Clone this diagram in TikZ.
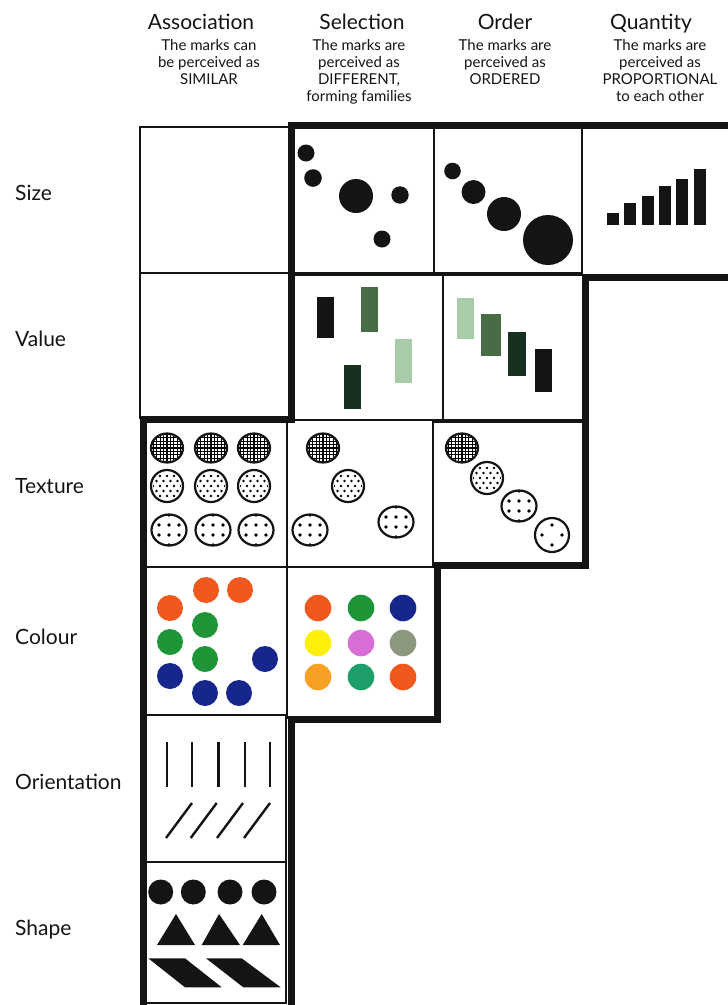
\documentclass[tikz,border=0pt]{standalone}
\usepackage{fontspec}
\setmainfont{Lato}
\usetikzlibrary{positioning}
\definecolor{inkblack}{RGB}{20,20,20}
\definecolor{markorange}{RGB}{240,88,30}
\definecolor{markgreen}{RGB}{30,150,55}
\definecolor{markblue}{RGB}{22,38,140}
\definecolor{markyellow}{RGB}{255,240,10}
\definecolor{markpink}{RGB}{215,110,215}
\definecolor{markgrey}{RGB}{140,152,125}
\definecolor{markamber}{RGB}{248,160,35}
\definecolor{markteal}{RGB}{30,158,105}
\definecolor{valpale}{RGB}{168,204,170}
\definecolor{valmid}{RGB}{72,108,70}
\definecolor{valdark}{RGB}{24,48,32}

\begin{document}
\begin{tikzpicture}[
    x=1pt, y=-1pt,
    thinline/.style={draw=inkblack, line width=2pt},
    thickline/.style={draw=inkblack, line width=7pt, line join=miter},
    title/.style={font=\fontsize{21}{24}\selectfont, text=inkblack, inner sep=0pt, anchor=base},
    desc/.style={font=\fontsize{15}{17}\selectfont, text=inkblack, inner sep=0pt, align=center},
    rowlabel/.style={font=\fontsize{21}{24}\selectfont, text=inkblack, inner sep=0pt, anchor=base west},
    ring/.style={draw=inkblack, line width=2.2pt},
    gridmark/.pic={
        \begin{scope}
            \clip (0,0) ellipse [x radius=16, y radius=14.5];
            \foreach \k in {-17,-13.6,...,17} {
                \draw[line width=1.1pt] (\k,-17) -- (\k,17);
                \draw[line width=1.1pt] (-17,\k) -- (17,\k);
            }
        \end{scope}
        \draw[ring] (0,0) ellipse [x radius=16, y radius=14.5];
    },
    densemark/.pic={
        \begin{scope}
            \clip (0,0) circle [radius=14];
            \foreach \r in {-3,...,3}
                \foreach \c in {-3,...,3}
                    \fill ({7*\c+3.5*mod(\r,2)},{5*\r}) circle [radius=1.45];
        \end{scope}
        \draw[ring] (0,0) circle [radius=16];
    },
    sparsemark/.pic={
        \begin{scope}
            \clip (0,0) ellipse [x radius=17, y radius=15.5];
            \foreach \r in {-15,-5,5,15}
                \foreach \c in {-10,0,10}
                    \fill (\c,\r) circle [radius=1.8];
        \end{scope}
        \draw[ring] (0,0) ellipse [x radius=17.5, y radius=15.5];
    },
    fourmark/.pic={
        \foreach \p in {(0,-10),(-10,0),(10,0),(0,10)}
            \fill \p circle [radius=1.8];
        \draw[ring] (0,0) circle [radius=17];
    }
]
\useasboundingbox (0,0) rectangle (728,1005);

% Column heads
\node[title] (assoc) at (201,29) {Association};
\node[title] (select) at (362,29) {Selection};
\node[title] (order) at (505,29) {Order};
\node[title] (quant) at (651,29) {Quantity};
\node[desc, below=10pt of assoc.base, xshift=8pt] (assocdesc) {The marks can\\be perceived as\\SIMILAR};
\node[desc, below=10pt of select.base, xshift=-3pt] (selectdesc) {The marks are\\perceived as\\DIFFERENT,\\forming families};
\node[desc, below=10pt of order.base] (orderdesc) {The marks are\\perceived as\\ORDERED};
\node[desc, below=10pt of quant.base, xshift=9pt] (quantdesc) {The marks are\\perceived as\\PROPORTIONAL\\to each other};

% Row labels
\node[rowlabel] (sizelbl) at (15,200) {Size};
\node[rowlabel] (valuelbl) at (15,346) {Value};
\node[rowlabel] (texturelbl) at (15,493) {Texture};
\node[rowlabel] (colourlbl) at (15,644) {Colour};
\node[rowlabel] (orientlbl) at (15,789) {Orientation};
\node[rowlabel] (shapelbl) at (15,935) {Shape};

% Cells
\draw[thinline] (140,127) rectangle (289,273);
\draw[thinline] (289,127) rectangle (434,273);
\draw[thinline] (434,127) rectangle (582,273);
\draw[thinline] (582,127) -- (582,276);
\draw[thinline] (140,273) rectangle (289,418);
\draw[thinline] (291,275) rectangle (443,420);
\draw[thinline] (443,275) rectangle (585,420);
\draw[thinline] (143,420) rectangle (287,567);
\draw[thinline] (287,420) rectangle (433,567);
\draw[thinline] (433,422) rectangle (584,565);
\draw[thinline] (143,567) rectangle (287,715);
\draw[thinline] (287,567) rectangle (436,718);
\draw[thinline] (143,715) rectangle (286,862);
\draw[thinline] (143,862) rectangle (286,1003);

% Outline of the valid cells
\draw[thickline] (143.5,1010) -- (143.5,419) -- (291,419) -- (291,125.5) -- (735,125.5);
\draw[thickline] (735,277) -- (585.5,277) -- (585.5,565) -- (437.5,565) -- (437.5,719) -- (291,719) -- (291,1010);

% Size
\foreach \x/\y/\r in {306/153/8.5, 313/178/8.8, 356/196/17, 400/195/8.7, 382/239/8.5}
    \fill[inkblack] (\x,\y) circle [radius=\r];
\foreach \x/\y/\r in {452.5/171/8.3, 473.5/192/12, 504/214/17, 548/240/25}
    \fill[inkblack] (\x,\y) circle [radius=\r];
\foreach \x/\t in {607/213, 624/203, 641.5/196, 658.5/186, 675.5/179, 694/169}
    \fill[inkblack] (\x,\t) rectangle ++(12,225-\t);

% Value
\fill[inkblack] (317,297) rectangle (334,338);
\fill[valmid] (361,287) rectangle (378,332);
\fill[valpale] (395,339) rectangle (412,383);
\fill[valdark] (344,365) rectangle (361,409);
\fill[valpale] (457,298) rectangle (474,339);
\fill[valmid] (481,314) rectangle (501,356);
\fill[valdark] (508,332) rectangle (526,376);
\fill[inkblack] (535,349) rectangle (552,392);

% Texture
\foreach \x in {167,211,254} {
    \pic at (\x,448) {gridmark};
    \pic at (\x,486) {densemark};
}
\foreach \x in {169,213,256}
    \pic at (\x,530) {sparsemark};
\pic at (323,448) {gridmark};
\pic at (348,486) {densemark};
\pic at (310,530) {sparsemark};
\pic at (396,522) {sparsemark};
\pic at (462,448) {gridmark};
\pic at (487,478) {densemark};
\pic at (519,506) {sparsemark};
\pic at (552,535) {fourmark};

% Colour
\foreach \x/\y/\c in {206/590/markorange, 240/590/markorange, 170/608/markorange,
    205/625/markgreen, 170/642/markgreen, 205/659/markgreen,
    265/659/markblue, 170/676/markblue, 205/693/markblue, 239/693/markblue}
    \fill[\c] (\x,\y) circle [radius=13];
\foreach \x/\y/\c in {318/608/markorange, 361/608/markgreen, 403/608/markblue,
    318/643/markyellow, 361/643/markpink, 403/643/markgrey,
    318/677/markamber, 361/677/markteal, 403/677/markorange}
    \fill[\c] (\x,\y) circle [radius=13.3];

% Orientation
\foreach \x in {166.7,191.7,218.3,245,270}
    \draw[inkblack, line width=2.4pt] (\x,742) -- (\x,787);
\foreach \x in {166,190.7,217,244}
    \draw[inkblack, line width=2.4pt] (\x,838) -- ++(26,-35);

% Shape
\foreach \x in {160.7,193.3,230,264}
    \fill[inkblack] (\x,892) circle [radius=12.5];
\foreach \x/\a/\b in {157/176/195, 201.7/219/240, 242.7/261.7/280}
    \fill[inkblack] (\x,945) -- (\a,914) -- (\b,945) -- cycle;
\fill[inkblack] (148.3,958.3) -- (185,958.3) -- (221.7,987.3) -- (185,987.3) -- cycle;
\fill[inkblack] (206,958.3) -- (241.7,958.3) -- (280.7,987.3) -- (243.3,987.3) -- cycle;

\end{tikzpicture}
\end{document}
